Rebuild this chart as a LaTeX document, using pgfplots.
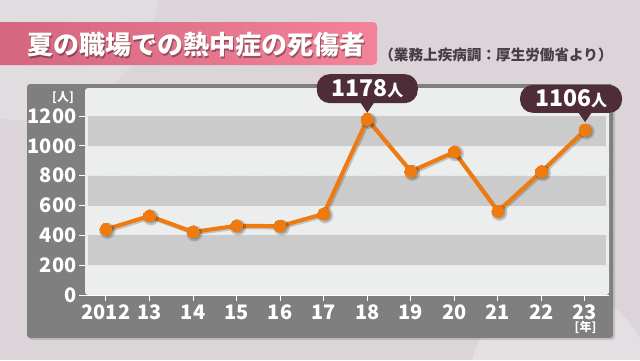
\documentclass[border=0pt]{standalone}
\usepackage{pgfplots}
\pgfplotsset{compat=1.18}
\usepackage{fontspec}
\setmainfont{Noto Sans CJK JP}
\definecolor{bg}{HTML}{DBD5D9}
\definecolor{panel}{HTML}{7F7F7F}
\definecolor{innerc}{HTML}{ECEEEE}
\definecolor{band}{HTML}{CBCBCB}
\definecolor{orng}{HTML}{EE7A10}
\definecolor{callout}{HTML}{4E2D38}
\definecolor{titleL}{HTML}{D3657F}
\definecolor{titleR}{HTML}{F28399}
\definecolor{subt}{HTML}{4A3D45}
\begin{document}
\begin{tikzpicture}[x=1pt,y=1pt]
\useasboundingbox (0,0) rectangle (640,360);
\fill[bg] (0,0) rectangle (640,360);
\begin{scope}
\clip (0,0) rectangle (640,360);
\fill[white,opacity=0.18] (20,380) circle (140);
\fill[white,opacity=0.25] (560,-20) circle (90);
\end{scope}
% title
\shade[left color=titleL,right color=titleR,rounded corners=4pt] (-6,295) rectangle (377,338);
\node[anchor=west,text=black,opacity=0.35,inner sep=0pt] at (28.5,313.5) {\fontsize{26}{26}\selectfont\bfseries 夏の職場での熱中症の死傷者};
\node[anchor=west,text=white,inner sep=0pt] at (27,315) {\fontsize{26}{26}\selectfont\bfseries 夏の職場での熱中症の死傷者};
\node[anchor=center,text=subt,inner sep=0pt] at (496,305) {\fontsize{14.6}{14.6}\selectfont\bfseries （業務上疾病調：厚生労働省より）};
% panel
\fill[black,opacity=0.12,rounded corners=3pt] (29,20) rectangle (615,274);
\fill[panel,rounded corners=3pt] (27,22) rectangle (613,276);
\fill[innerc,rounded corners=3pt] (85,65) rectangle (609,272);
\node[text=white,inner sep=0pt] at (63,262.5) {\fontsize{12}{12}\selectfont\bfseries [人]};
\node[text=white,inner sep=0pt] at (585.5,32.5) {\fontsize{12}{12}\selectfont\bfseries [年]};
\begin{axis}[
  at={(85pt,65pt)}, anchor=south west, scale only axis,
  width=524pt, height=207pt,
  xmin=2011.52, xmax=2023.55, ymin=0, ymax=1388,
  clip=false,
  axis y line*=left, axis x line*=bottom,
  y axis line style={draw=none},
  x axis line style={draw=white, line width=1pt},
  xtick={2012,...,2023},
  xticklabels={2012,13,14,15,16,17,18,19,20,21,22,23},
  ytick={0,200,400,600,800,1000,1200},
  yticklabels={0,200,400,600,800,1000,1200},
  tick align=outside,
  major tick length=6pt,
  tick style={white, line width=1pt},
  every tick label/.append style={text=white, font=\fontsize{20}{20}\selectfont\bfseries},
  /pgf/number format/assume math mode=true,
  ymajorgrids,
  grid style={white!80!gray, dash pattern=on 2pt off 1.5pt, line width=0.6pt},
  xticklabel style={yshift=0pt},
  yticklabel style={xshift=1pt},
]
\fill[band] (axis cs:2011.59,200) rectangle (axis cs:2023.48,400);
\fill[band] (axis cs:2011.59,600) rectangle (axis cs:2023.48,800);
\fill[band] (axis cs:2011.59,1000) rectangle (axis cs:2023.48,1200);
\addplot[black, opacity=0.18, line width=4pt, line join=round, mark=*, mark size=6pt, shift={(1.5pt,-1.5pt)}] coordinates {
(2012,440) (2013,530) (2014,423) (2015,464) (2016,462) (2017,544)
(2018,1178) (2019,829) (2020,959) (2021,561) (2022,827) (2023,1106)};
\addplot[orng, line width=4pt, line join=round, mark=*, mark size=6pt, mark options={fill=orng, draw=orng, line width=0pt}] coordinates {
(2012,440) (2013,530) (2014,423) (2015,464) (2016,462) (2017,544)
(2018,1178) (2019,829) (2020,959) (2021,561) (2022,827) (2023,1106)};
\begin{scope}[shift={(axis cs:2018,1178)}]
\fill[callout] (-7pt,17pt) -- (0pt,6.5pt) -- (7pt,17pt) -- cycle;
\node[fill=callout, rounded corners=13pt, minimum width=101pt, minimum height=29pt, anchor=south, text=white, inner sep=0pt] at (0pt,16pt) {{\fontsize{23}{23}\selectfont\bfseries 1178}{\fontsize{16}{16}\selectfont\bfseries 人}};
\end{scope}
\begin{scope}[shift={(axis cs:2023,1106)}]
\fill[callout] (-7pt,18pt) -- (0pt,8pt) -- (7pt,18pt) -- cycle;
\node[fill=callout, rounded corners=13pt, minimum width=102pt, minimum height=28pt, anchor=south, text=white, inner sep=0pt] at (-14pt,17pt) {{\fontsize{23}{23}\selectfont\bfseries 1106}{\fontsize{16}{16}\selectfont\bfseries 人}};
\end{scope}
\end{axis}
\end{tikzpicture}
\end{document}
